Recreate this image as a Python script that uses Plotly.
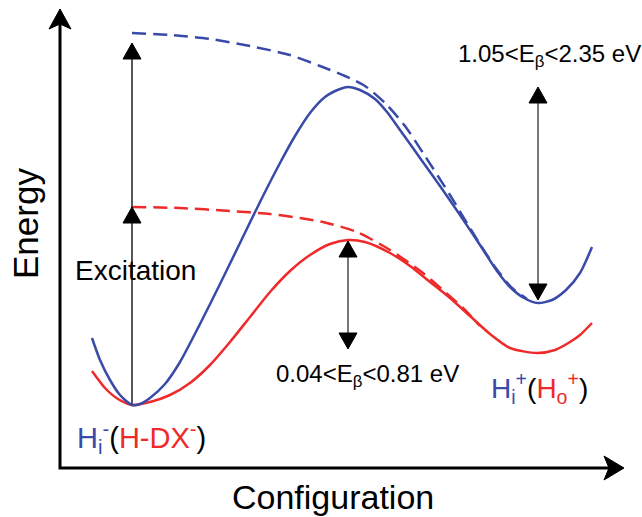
import plotly.graph_objects as go

# ---- data (configuration coordinate, energy) ----
blue_x = [92,100,110,120,132,140,150,165,180,200,220,240,260,280,295,310,325,340,348,360,375,387,400,420,440,460,480,497,510,524,538,552,566,580,592]
blue_E = [179,157,137,122,112,113,119,133,155,193,233,274,315,354,381,404,420,428,430,427,418,405,387,359,331,302,272,246,230,219,214,217,227,244,270]

red_x = [92,105,118,132,150,170,190,210,230,250,270,290,310,330,348,365,390,410,430,450,470,490,510,537,555,570,580,592]
red_E = [146,129,118,112,115,122,134,152,175,200,225,246,262,273,277,275,264,251,235,219,201,183,169,164,167,175,182,194]

blue_dash_x = [132,170,210,250,290,320,345,365,385,405,425,450,473,495,512,527]
blue_dash_E = [484,482,478,471,462,451,441,431,414,391,361,322,284,250,229,218]

red_dash_x = [132,180,230,270,300,323,357,390,423,445,463,480]
red_dash_E = [310,309,306,303,299,295,285,267,244,225,209,191]

# excitation arrow: x, start, heads
exc_x = 132
exc_start = 112
exc_heads = [474, 310]
# barrier double arrows: x, low tip, high tip
barrier_x = [348, 538]
barrier_low = [168, 217]
barrier_high = [276, 430]

# axes
axis_origin = (60, 49)
axis_x_end = 624
axis_y_end = 508

BLUE = "#3a4aa8"
RED = "#ee2a2a"
FONT = "Liberation Sans, Arial, sans-serif"

fig = go.Figure()

def line(x, y, color, width, dash=None):
    fig.add_trace(go.Scatter(x=x, y=y, mode="lines",
                             line=dict(color=color, width=width, dash=dash, shape="spline", smoothing=0.7),
                             hoverinfo="skip"))

def head(xt, yt, direction, w=18, h=16, notch=0, color="black"):
    if direction == "up":
        xs = [xt - w/2, xt, xt + w/2, xt, xt - w/2]
        ys = [yt - h, yt, yt - h, yt - h + notch, yt - h]
    elif direction == "down":
        xs = [xt - w/2, xt, xt + w/2, xt, xt - w/2]
        ys = [yt + h, yt, yt + h, yt + h - notch, yt + h]
    else:  # right
        xs = [xt - h, xt, xt - h, xt - h + notch, xt - h]
        ys = [yt - w/2, yt, yt + w/2, yt, yt - w/2]
    fig.add_trace(go.Scatter(x=xs, y=ys, mode="lines", fill="toself", fillcolor=color,
                             line=dict(color=color, width=1), hoverinfo="skip"))

# curves
line(blue_dash_x, blue_dash_E, BLUE, 2.5, "14px,7px")
line(red_dash_x, red_dash_E, RED, 2.5, "14px,7px")
line(red_x, red_E, RED, 2.5)
line(blue_x, blue_E, BLUE, 2.5)

# excitation arrow
fig.add_trace(go.Scatter(x=[exc_x, exc_x], y=[exc_start, exc_heads[0] - 6], mode="lines",
                         line=dict(color="#444", width=1.8), hoverinfo="skip"))
for t in exc_heads:
    head(exc_x, t, "up")

# barrier arrows
for bx, lo, hi in zip(barrier_x, barrier_low, barrier_high):
    fig.add_trace(go.Scatter(x=[bx, bx], y=[lo + 6, hi - 6], mode="lines",
                             line=dict(color="#555", width=1.6), hoverinfo="skip"))
    head(bx, hi, "up")
    head(bx, lo, "down")

# axes
ox, oy = axis_origin
fig.add_trace(go.Scatter(x=[ox, ox, axis_x_end - 15], y=[axis_y_end - 15, oy, oy], mode="lines",
                         line=dict(color="black", width=3), hoverinfo="skip"))
head(ox, axis_y_end, "up", w=22, h=20, notch=5)
head(axis_x_end, oy, "right", w=24, h=20, notch=5)

ann = [
    dict(x=25, y=293, text="Energy", textangle=-90, size=35),
    dict(x=333, y=20, text="Configuration", size=34),
    dict(x=135, y=247, text="Excitation", size=28),
    dict(x=367, y=142, text="0.04&lt;E<sub>β</sub>&lt;0.81 eV", size=24),
    dict(x=549, y=462, text="1.05&lt;E<sub>β</sub>&lt;2.35 eV", size=24),
    dict(x=141, y=79, text=f"<span style='color:{BLUE}'>H<sub>i</sub><sup>-</sup></span>(<span style='color:{RED}'>H-DX<sup>-</sup></span>)", size=29),
    dict(x=539, y=129, text=f"<span style='color:{BLUE}'>H<sub>i</sub><sup>+</sup></span>(<span style='color:{RED}'>H<sub>o</sub><sup>+</sup></span>)", size=28),
]
for a in ann:
    size = a.pop("size")
    fig.add_annotation(xref="x", yref="y", showarrow=False,
                       font=dict(family=FONT, color="black", size=size), **a)

fig.update_layout(
    width=642, height=517, margin=dict(l=0, r=0, t=0, b=0),
    paper_bgcolor="white", plot_bgcolor="white", showlegend=False,
    xaxis=dict(range=[0, 642], visible=False, fixedrange=True),
    yaxis=dict(range=[0, 517], visible=False, fixedrange=True),
)
fig.write_html("out.html")
